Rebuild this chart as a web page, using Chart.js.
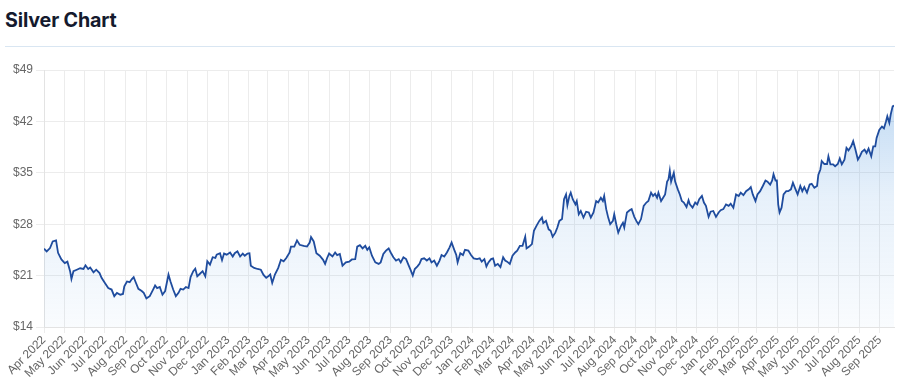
<!DOCTYPE html>
<html>
<head>
<meta charset="utf-8">
<script src="https://cdn.jsdelivr.net/npm/chart.js@4/dist/chart.umd.min.js"></script>
<style>
  html, body { margin: 0; padding: 0; background: #fff; }
  body { width: 900px; height: 385px; position: relative; overflow: hidden; }
  #title { position: absolute; left: 5px; top: 8px; font-family: Inter, "Liberation Sans", Arial, sans-serif; font-weight: 700; font-size: 19.7px; color: #141a2e; letter-spacing: -0.15px; }
  #rule { position: absolute; left: 5px; top: 46px; width: 890px; height: 1px; background: #d9e6f2; }
  #wrap { position: absolute; left: 0; top: 50px; width: 900px; height: 335px; }
</style>
</head>
<body>
<div id="title">Silver Chart</div>
<div id="rule"></div>
<div id="wrap"><canvas id="c"></canvas></div>
<script>
// Month tick labels (x axis)
const monthLabels = [
  "Apr 2022","May 2022","Jun 2022","Jul 2022","Aug 2022","Sep 2022","Oct 2022","Nov 2022","Dec 2022",
  "Jan 2023","Feb 2023","Mar 2023","Apr 2023","May 2023","Jun 2023","Jul 2023","Aug 2023","Sep 2023","Oct 2023","Nov 2023","Dec 2023",
  "Jan 2024","Feb 2024","Mar 2024","Apr 2024","May 2024","Jun 2024","Jul 2024","Aug 2024","Sep 2024","Oct 2024","Nov 2024","Dec 2024",
  "Jan 2025","Feb 2025","Mar 2025","Apr 2025","May 2025","Jun 2025","Jul 2025","Aug 2025","Sep 2025"
];
// Y axis tick values (USD)
const yTicks = [14, 21, 28, 35, 42, 49];

// Days since 1 Apr 2022 for each sample
const days = [
  0,4,9,13,18,21,26,31,35,39,41,44,49,54,59,62,66,69,74,78,
  83,86,91,96,101,105,109,114,118,120,124,128,131,134,137,141,146,149,153,158,
  163,166,169,173,177,181,186,189,193,197,201,204,208,212,216,219,223,226,229,233,
  237,241,244,248,252,256,258,263,266,269,273,278,282,285,289,293,297,300,304,307,
  309,314,319,324,328,332,335,338,341,345,350,354,358,362,367,369,374,378,382,388,
  393,397,399,403,407,412,417,420,423,426,
  431,435,438,442,446,451,456,460,465,468,472,476,480,483,486,490,495,500,503,507,
  511,515,518,522,526,530,533,537,541,545,548,551,554,558,561,564,568,572,576,579,
  583,587,591,594,598,602,606,609,613,616,618,622,626,629,634,638,642,647,651,654,
  658,661,664,668,671,674,678,682,686,689,692,696,700,704,707,711,715,719,721,725,
  729,732,736,740,744,746,750,754,757,760,764,767,770,774,777,780,782,785,787,790,
  794,796,799,802,806,810,814,817,821,825,828,832,835,837,840,843,846,
  850,852,855,858,862,865,867,871,875,878,882,885,888,892,896,900,903,907,910,913,
  916,918,922,925,928,931,933,935,937,941,943,947,950,953,956,960,963,965,969,973,
  976,979,983,986,989,993,996,1000,1004,1008,1011,1015,1019,1023,1026,1030,1034,1038,1041,1045,
  1049,1053,1056,1059,1063,1066,1070,1074,1078,1081,1085,1088,1090,1093,1095,1097,1099,1102,1105,1109,
  1112,1116,1119,1122,1126,1130,1133,1136,1140,1144,1147,1151,1155,1157,1160,1162,1166,1170,1172,1175,
  1179,1182,1186,1189,1192,1196,1199,1202,1206,1209,1212,1216,1219,1222,1226,1229,1232,1236,1239,1242,
  1244,1248,1252,1255,1258,1260,1263,1265,1268,1270
];
// Silver price (USD/oz) for each sample
const prices = [
  24.66,24.3,24.75,25.65,25.8,24.1,23.2,22.7,22.9,21.6,20.55,21.6,21.8,22.0,21.9,22.4,21.9,22.1,21.45,21.8,
  21.35,20.7,20.0,19.3,19.1,18.2,18.65,18.4,18.5,19.55,20.2,20.1,20.5,20.8,20.1,19.2,18.9,18.65,17.9,18.2,
  19.1,19.65,19.3,19.45,18.4,18.9,21.15,20.2,19.1,18.2,18.65,19.2,19.1,19.45,19.3,20.8,21.6,21.95,20.9,21.25,
  21.6,20.9,22.95,22.5,23.5,23.4,23.85,24.05,23.1,24.0,23.85,24.15,23.6,24.05,24.3,23.6,24.0,23.7,24.0,24.05,
  22.35,22.05,21.9,21.8,21.1,20.7,20.9,21.15,20.0,21.15,22.05,23.15,22.95,23.4,24.15,24.95,24.95,25.8,25.2,25.05,
  24.95,25.5,26.25,25.65,24.05,23.7,23.15,22.6,23.4,24.0,
  23.6,24.15,23.8,23.95,22.35,22.8,22.9,23.2,23.25,24.95,25.15,24.7,25.05,24.5,24.85,23.7,22.8,22.6,22.8,23.95,
  24.4,24.7,24.15,23.5,23.05,23.25,22.8,23.5,23.25,22.35,21.7,21.0,21.9,22.25,22.6,23.25,23.35,23.05,23.35,22.8,
  23.05,22.35,23.05,23.8,23.6,24.15,24.85,25.5,24.5,23.8,22.8,24.05,23.8,24.5,24.4,23.8,23.35,23.25,23.35,22.9,
  23.25,22.25,22.8,23.25,23.35,22.35,22.6,22.15,23.5,23.05,22.9,22.6,23.7,24.15,24.4,25.05,25.05,26.3,24.7,24.95,
  25.3,27.1,27.8,28.45,28.9,28.15,28.45,27.3,27.1,26.3,26.85,27.55,28.45,28.7,31.4,32.05,30.6,31.85,32.3,31.4,
  30.7,31.15,29.35,29.8,28.9,29.7,29.6,28.9,29.6,31.15,30.95,31.6,31.15,31.85,30.05,28.9,28.0,
  28.45,29.35,28.0,26.85,27.75,28.2,27.55,29.6,29.9,30.05,29.0,28.45,28.0,28.7,30.5,30.95,31.15,32.3,31.85,32.15,
  31.6,32.3,31.15,31.6,32.05,33.8,34.1,35.3,33.8,35.0,33.8,32.75,32.05,31.15,30.95,30.35,31.25,30.7,30.25,30.95,
  30.7,31.4,31.85,30.95,30.5,29.0,29.7,29.8,29.0,29.6,29.9,30.05,30.7,30.5,30.8,30.25,32.05,31.85,32.3,31.95,
  32.5,32.75,33.05,32.05,31.15,32.05,32.5,33.2,33.95,33.8,33.4,33.95,34.8,33.95,33.95,30.7,29.6,30.25,32.05,32.5,
  32.5,32.75,33.65,32.95,32.05,33.2,32.5,33.05,32.3,33.4,33.5,32.95,33.2,34.75,35.45,36.6,36.2,36.2,37.25,36.15,
  36.15,35.9,36.2,36.95,36.15,36.8,38.4,38.05,38.6,39.3,38.3,36.8,37.25,37.85,38.15,37.7,38.3,37.25,38.6,38.6,
  39.75,40.85,41.3,41.05,42.0,42.7,41.8,42.9,44.05,44.15
];

// Tick positions for month starts, derived from the month labels
const MONTHS = {Jan:0,Feb:1,Mar:2,Apr:3,May:4,Jun:5,Jul:6,Aug:7,Sep:8,Oct:9,Nov:10,Dec:11};
const base = Date.UTC(2022, 3, 1);
const monthStarts = monthLabels.map(l => {
  const [m, y] = l.split(' ');
  return Math.round((Date.UTC(+y, MONTHS[m], 1) - base) / 86400000);
});

const points = days.map((d, i) => ({ x: d, y: prices[i] }));
const tickFont = { family: '"Liberation Sans", Arial, Helvetica, sans-serif', size: 12 };
const gridColor = '#ececec';

new Chart(document.getElementById('c'), {
  type: 'line',
  data: {
    datasets: [{
      data: points,
      borderColor: '#1f4c9e',
      borderWidth: 1.8,
      pointRadius: 0,
      tension: 0,
      fill: 'start',
      backgroundColor: (ctx) => {
        const chart = ctx.chart;
        const area = chart.chartArea;
        if (!area) return 'rgba(60,140,220,0.1)';
        const g = chart.ctx.createLinearGradient(0, area.top, 0, area.bottom);
        g.addColorStop(0, 'rgba(70,145,220,0.38)');
        g.addColorStop(0.5, 'rgba(70,145,220,0.13)');
        g.addColorStop(1, 'rgba(70,145,220,0.03)');
        return g;
      }
    }]
  },
  options: {
    responsive: true,
    maintainAspectRatio: false,
    animation: false,
    layout: { padding: { left: 0, right: 6, top: 20, bottom: 0 } },
    plugins: { legend: { display: false }, tooltip: { enabled: false } },
    scales: {
      x: {
        type: 'linear',
        min: 0,
        max: days[days.length - 1],
        afterBuildTicks: (scale) => { scale.ticks = monthStarts.map(v => ({ value: v })); },
        afterFit: (scale) => { scale.height = 58; scale.paddingLeft = 0; scale.paddingRight = 0; },
        grid: { color: gridColor, tickLength: 6 },
        border: { color: '#e3e3e3' },
        ticks: {
          autoSkip: false,
          minRotation: 45,
          maxRotation: 45,
          color: '#666',
          font: tickFont,
          padding: 0,
          callback: (v, i) => monthLabels[i]
        }
      },
      y: {
        min: yTicks[0],
        max: yTicks[yTicks.length - 1],
        afterBuildTicks: (scale) => { scale.ticks = yTicks.map(v => ({ value: v })); },
        afterFit: (scale) => { scale.width = 44; },
        grid: { color: gridColor, tickLength: 8 },
        border: { color: '#e3e3e3' },
        ticks: { color: '#666', font: tickFont, padding: 3, callback: (v) => '$' + v }
      }
    }
  }
});
</script>
</body>
</html>
